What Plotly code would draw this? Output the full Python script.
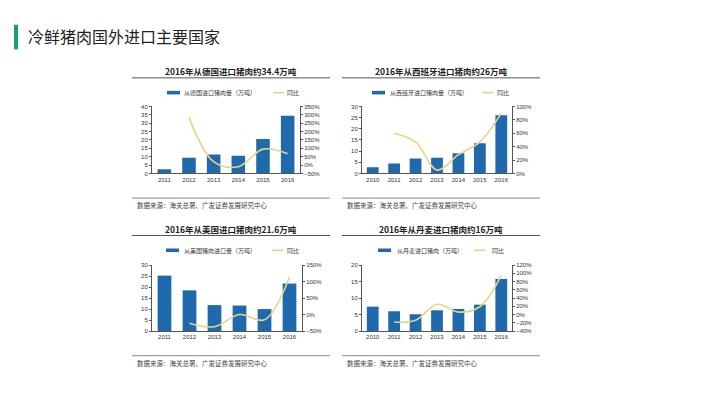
import plotly.graph_objects as go

# ---------------- data ----------------
de_years = ["2011", "2012", "2013", "2014", "2015", "2016"]
de_vol = [2.5, 9.3, 11.3, 10.5, 20.5, 34.4]
de_yoy = [None, 285, 20, -10, 95, 68]

es_years = ["2010", "2011", "2012", "2013", "2014", "2015", "2016"]
es_vol = [2.8, 4.5, 6.7, 7.0, 9.0, 13.5, 26.0]
es_yoy = [None, 60, 47, 5, 28, 47, 90]

us_years = ["2011", "2012", "2013", "2014", "2015", "2016"]
us_vol = [25.2, 18.5, 11.8, 11.6, 10.0, 21.6]
us_yoy = [None, -26, -37, 0, -16, 114]

dk_years = ["2010", "2011", "2012", "2013", "2014", "2015", "2016"]
dk_vol = [7.4, 6.0, 5.1, 6.3, 6.7, 8.0, 15.8]
dk_yoy = [None, -18, -14, 25, 6, 19, 95]

titles = ["2016年从德国进口猪肉约34.4万吨", "2016年从西班牙进口猪肉约26万吨",
          "2016年从美国进口猪肉约21.6万吨", "2016年从丹麦进口猪肉约16万吨"]
bar_names = ["从德国进口猪肉量（万吨）", "从西班牙进口猪肉量（万吨）",
             "从美国猪肉进口量（万吨）", "从丹麦进口猪肉（万吨）"]
line_name = "同比"
source_text = "数据来源：海关总署、广发证券发展研究中心"
page_title = "冷鲜猪肉国外进口主要国家"

# ---------------- layout geometry ----------------
W, H = 720, 405
BAR_C = "#1F69AC"
LINE_C = "#E2D686"
FONT = "Noto Sans CJK SC"

panels = [
    dict(x=de_years, v=de_vol, y=de_yoy, l=(0, 40, 5), r=(-50, 350, 50),
         px=(152, 300), py=(105, 173), box=(132, 330), ty=69, tl=76, bl=198, sy=205,
         leg=(167, 182, 273, 285), ly=91),
    dict(x=es_years, v=es_vol, y=es_yoy, l=(0, 30, 5), r=(0, 100, 20),
         px=(362, 512), py=(105, 173), box=(342, 540), ty=69, tl=76, bl=198, sy=205,
         leg=(372, 388, 482, 495), ly=91),
    dict(x=us_years, v=us_vol, y=us_yoy, l=(0, 30, 5), r=(-50, 150, 50),
         px=(152, 302), py=(266, 333), box=(132, 330), ty=229, tl=236, bl=358, sy=365,
         leg=(166, 182, 272, 285), ly=251),
    dict(x=dk_years, v=dk_vol, y=dk_yoy, l=(0, 20, 5), r=(-40, 120, 20),
         px=(362, 512), py=(266, 333), box=(342, 540), ty=229, tl=236, bl=358, sy=365,
         leg=(378, 395, 474, 490), ly=251),
]

fig = go.Figure()
layout = dict(width=W, height=H, margin=dict(l=0, r=0, t=0, b=0),
              paper_bgcolor="white", plot_bgcolor="white",
              font=dict(family=FONT, color="#333333", size=6),
              showlegend=False)
shapes = []
annotations = []


def px2x(v):
    return v / W


def px2y(v):
    return (H - v) / H


for i, p in enumerate(panels):
    n = i + 1
    xa = f"x{n}" if n > 1 else "x"
    ya = f"y{2*n-1}" if n > 1 else "y"
    yb = f"y{2*n}"
    fig.add_trace(go.Bar(x=p["x"], y=p["v"], xaxis=xa, yaxis=ya, name=bar_names[i],
                         marker=dict(color=BAR_C, line=dict(width=0)), width=0.55,
                         hoverinfo="skip"))
    fig.add_trace(go.Scatter(x=p["x"], y=p["y"], xaxis=xa, yaxis=yb, name=line_name,
                             mode="lines", line=dict(color=LINE_C, width=1.6, shape="spline"),
                             connectgaps=False, hoverinfo="skip"))
    xd = [px2x(p["px"][0]), px2x(p["px"][1])]
    yd = [px2y(p["py"][1]), px2y(p["py"][0])]
    xkey = "xaxis" if n == 1 else f"xaxis{n}"
    ykey = "yaxis" if n == 1 else f"yaxis{2*n-1}"
    y2key = f"yaxis{2*n}"
    layout[xkey] = dict(domain=xd, anchor=ya, type="category", showline=True, linecolor="#555555",
                        linewidth=1, ticks="", showgrid=False, tickfont=dict(size=6, family="Arial"),
                        fixedrange=True)
    lo, hi, st = p["l"]
    layout[ykey] = dict(domain=yd, anchor=xa, range=[lo, hi], dtick=st, showgrid=False,
                        showline=True, linecolor="#555555", linewidth=1, ticks="outside",
                        ticklen=2, tickcolor="#555555", tickfont=dict(size=6, family="Arial"),
                        zeroline=False)
    lo, hi, st = p["r"]
    layout[y2key] = dict(overlaying=ya, anchor=xa, side="right", range=[lo, hi], dtick=st,
                         ticksuffix="%", showgrid=False, showline=True, linecolor="#555555",
                         linewidth=1, ticks="outside", ticklen=2, tickcolor="#555555",
                         tickfont=dict(size=6, family="Arial"), zeroline=False)

    # custom legend
    bx0, btx, lx0, ltx = p["leg"]
    ly = p["ly"]
    shapes.append(dict(type="rect", xref="paper", yref="paper",
                       x0=px2x(bx0), x1=px2x(bx0 + 13), y0=px2y(ly + 1.8), y1=px2y(ly - 1.8),
                       fillcolor=BAR_C, line=dict(width=0)))
    annotations.append(dict(x=px2x(btx), y=px2y(ly), xref="paper", yref="paper",
                            text=bar_names[i], showarrow=False, xanchor="left", yanchor="middle",
                            font=dict(size=6, family=FONT, color="#333333")))
    shapes.append(dict(type="line", xref="paper", yref="paper",
                       x0=px2x(lx0), x1=px2x(lx0 + 11), y0=px2y(ly), y1=px2y(ly),
                       line=dict(color=LINE_C, width=1.6)))
    annotations.append(dict(x=px2x(ltx), y=px2y(ly), xref="paper", yref="paper",
                            text=line_name, showarrow=False, xanchor="left", yanchor="middle",
                            font=dict(size=6, family=FONT, color="#333333")))

    cx = (p["box"][0] + p["box"][1]) / 2
    annotations.append(dict(x=px2x(cx), y=px2y(p["ty"]), xref="paper", yref="paper",
                            text=f"<b>{titles[i]}</b>", showarrow=False,
                            font=dict(size=8.5, family=FONT, color="#222222"),
                            xanchor="center", yanchor="middle"))
    annotations.append(dict(x=px2x(p["box"][0] + 3), y=px2y(p["sy"]), xref="paper", yref="paper",
                            text=source_text, showarrow=False,
                            font=dict(size=6.5, family=FONT, color="#444444"),
                            xanchor="left", yanchor="middle"))
    for yy, col in [(p["tl"], "#555555"), (p["bl"], "#888888")]:
        shapes.append(dict(type="line", xref="paper", yref="paper",
                           x0=px2x(p["box"][0]), x1=px2x(p["box"][1]),
                           y0=px2y(yy), y1=px2y(yy), line=dict(color=col, width=1)))

# page title with green marker
shapes.append(dict(type="rect", xref="paper", yref="paper", x0=px2x(14), x1=px2x(18),
                   y0=px2y(47), y1=px2y(22), fillcolor="#1AA260", line=dict(width=0)))
annotations.append(dict(x=px2x(26), y=px2y(34), xref="paper", yref="paper", text=page_title,
                        showarrow=False, font=dict(size=16, family=FONT, color="#222222"),
                        xanchor="left", yanchor="middle"))

layout["shapes"] = shapes
layout["annotations"] = annotations
fig.update_layout(**layout)
fig.write_html("out.html")
